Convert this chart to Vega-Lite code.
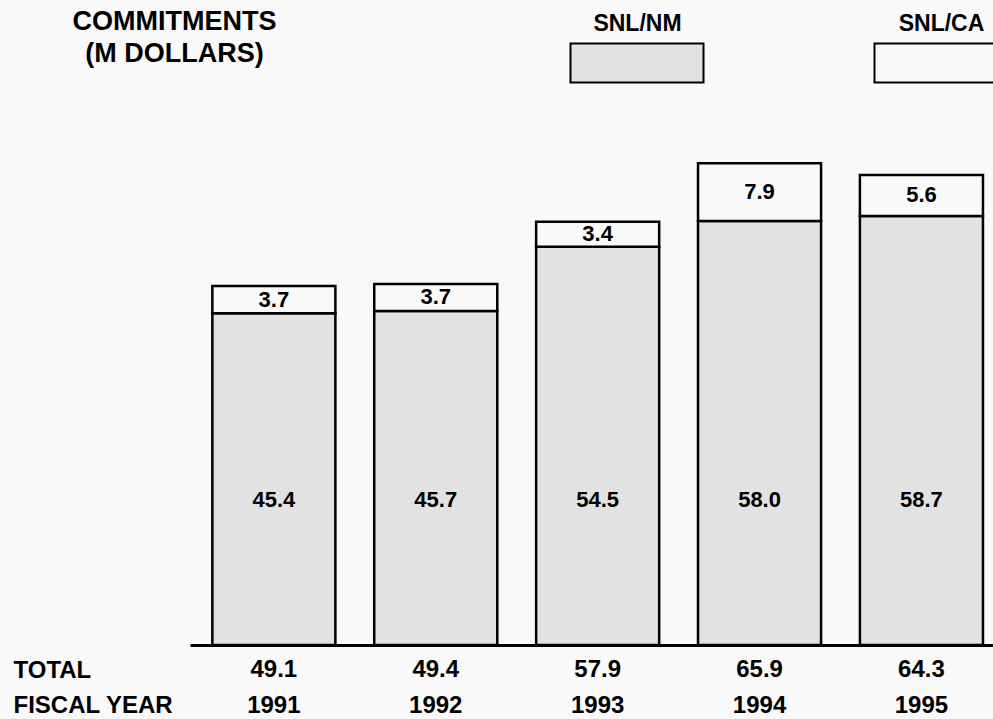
{
  "$schema": "https://vega.github.io/schema/vega-lite/v6.json",
  "width": 803,
  "height": 719,
  "autosize": {"type": "none"},
  "padding": {"left": 190, "top": 0, "right": 0, "bottom": 0},
  "background": "#f8f9f8",
  "config": {"view": {"stroke": null}, "font": "Liberation Sans"},
  "data": {
    "values": [
      {"year": "1991", "nm": 45.4, "ca": 3.7, "total": 49.1},
      {"year": "1992", "nm": 45.7, "ca": 3.7, "total": 49.4},
      {"year": "1993", "nm": 54.5, "ca": 3.4, "total": 57.9},
      {"year": "1994", "nm": 58.0, "ca": 7.9, "total": 65.9},
      {"year": "1995", "nm": 58.7, "ca": 5.6, "total": 64.3}
    ]
  },
  "encoding": {
    "x": {
      "field": "year",
      "type": "nominal",
      "sort": null,
      "scale": {"paddingInner": 0.24, "paddingOuter": 0.1, "align": 0.69},
      "axis": {
        "title": null,
        "offset": -74,
        "domain": true,
        "domainColor": "black",
        "domainWidth": 3,
        "ticks": false,
        "labelPadding": 67,
        "labelBaseline": "alphabetic",
        "labelFontSize": 24,
        "labelFontWeight": "bold",
        "labelColor": "black",
        "labelAngle": 0
      }
    }
  },
  "layer": [
    {
      "mark": {"type": "bar", "stroke": "black", "strokeWidth": 2.5},
      "encoding": {
        "y": {
          "field": "nm",
          "type": "quantitative",
          "scale": {"domain": [-10.12, 88.24], "nice": false, "zero": true},
          "axis": {
            "values": [-4.38, -9.17],
            "labelExpr": "datum.value < -6 ? 'FISCAL YEAR' : 'TOTAL'",
            "domain": false,
            "ticks": false,
            "grid": false,
            "labelAlign": "left",
            "labelBaseline": "alphabetic",
            "labelPadding": 177,
            "labelFontSize": 24,
            "labelFontWeight": "bold",
            "labelColor": "black",
            "labelOverlap": false,
            "labelFlush": false,
            "title": ["COMMITMENTS", "(M DOLLARS)"],
            "titleAngle": 0,
            "titleAlign": "center",
            "titleBaseline": "alphabetic",
            "titleX": -16,
            "titleY": 29,
            "titleFontSize": 27,
            "titleFontWeight": "bold",
            "titleColor": "black",
            "titleLineHeight": 32
          }
        },
        "fill": {
          "datum": "SNL/NM",
          "type": "nominal",
          "scale": {"domain": ["SNL/NM", "SNL/CA"], "range": ["#e2e2e2", "#f8f9f8"]},
          "legend": {
            "orient": "none",
            "legendX": 379.5,
            "legendY": -44,
            "direction": "horizontal",
            "columns": 2,
            "columnPadding": 163,
            "title": null,
            "padding": 0,
            "symbolType": "M-1,0.293H1V0.88H-1Z",
            "symbolSize": 17689,
            "symbolStrokeColor": "black",
            "symbolStrokeWidth": 2,
            "symbolOpacity": 1,
            "labelOffset": -67,
            "labelAlign": "center",
            "labelFontSize": 23,
            "labelFontWeight": "bold",
            "labelColor": "black",
            "labelLimit": 0
          }
        }
      }
    },
    {
      "mark": {"type": "bar", "stroke": "black", "strokeWidth": 2.5},
      "encoding": {
        "y": {"field": "total", "type": "quantitative"},
        "y2": {"field": "nm"},
        "fill": {"datum": "SNL/CA", "type": "nominal"}
      }
    },
    {
      "mark": {"type": "text", "fontSize": 22, "fontWeight": "bold", "baseline": "middle", "color": "black"},
      "encoding": {
        "y": {"datum": 19.8, "type": "quantitative"},
        "text": {"field": "nm", "type": "quantitative", "format": ".1f"}
      }
    },
    {
      "transform": [{"fold": ["nm", "total"], "as": ["k", "v"]}],
      "mark": {"type": "text", "fontSize": 22, "fontWeight": "bold", "baseline": "middle", "color": "black"},
      "encoding": {
        "y": {"aggregate": "mean", "field": "v", "type": "quantitative"},
        "text": {"aggregate": "min", "field": "ca", "type": "quantitative", "format": ".1f"}
      }
    },
    {
      "mark": {"type": "text", "fontSize": 24, "fontWeight": "bold", "baseline": "alphabetic", "color": "black"},
      "encoding": {
        "y": {"datum": -4.38, "type": "quantitative"},
        "text": {"field": "total", "type": "quantitative", "format": ".1f"}
      }
    }
  ]
}
